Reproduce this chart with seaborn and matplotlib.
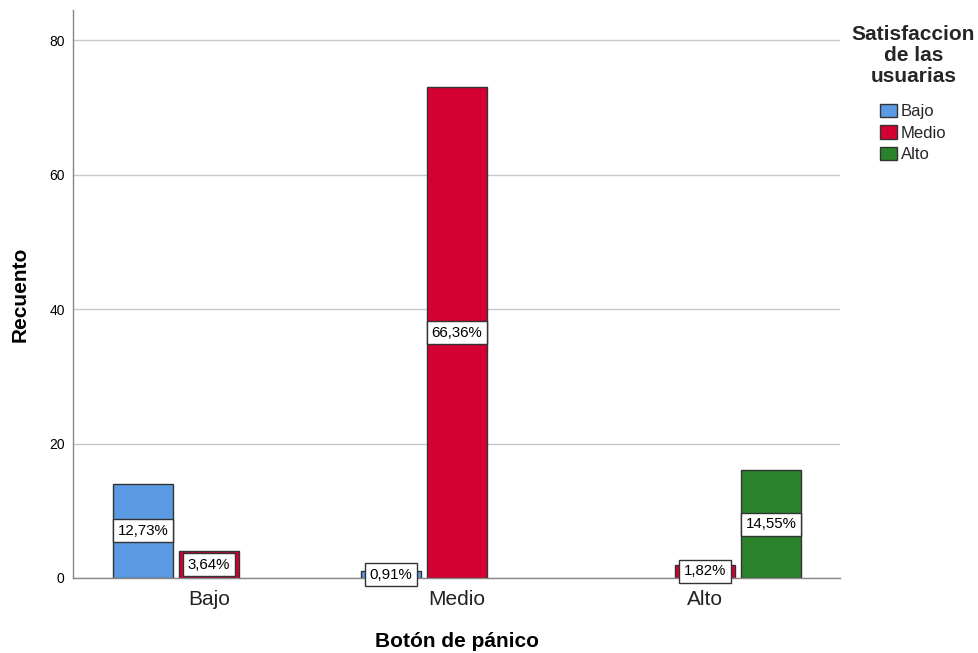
import matplotlib
matplotlib.use("Agg")
import matplotlib.pyplot as plt
import seaborn as sns
import pandas as pd
from matplotlib.patches import Patch

# Counts by panic-button level (x) and user-satisfaction level (hue)
boton = ["Bajo", "Bajo", "Medio", "Medio", "Alto", "Alto"]
satisfaccion = ["Bajo", "Medio", "Bajo", "Medio", "Medio", "Alto"]
recuento = [14, 4, 1, 73, 2, 16]

categorias = ["Bajo", "Medio", "Alto"]
niveles = ["Bajo", "Medio", "Alto"]
colores = ["#5A9BE3", "#D50032", "#2A832A"]
yticks = [0, 20, 40, 60, 80]

df = pd.DataFrame({"boton": boton, "satisfaccion": satisfaccion, "recuento": recuento})
total = sum(recuento)

sns.set_theme(style="white")
plt.rcParams["font.family"] = ["Liberation Sans", "DejaVu Sans"]

fig = plt.figure(figsize=(9.79, 6.53), dpi=100)
ax = fig.add_axes([0.0746, 0.1149, 0.7834, 0.8698])

sns.barplot(data=df, x="boton", y="recuento", hue="satisfaccion",
            order=categorias, hue_order=niveles, palette=colores,
            width=0.8, gap=0.1, edgecolor="#333333", linewidth=1.0,
            saturation=1, ax=ax, legend=False, errorbar=None)

# Percentage labels in white boxes at the middle of every bar
for cont in ax.containers:
    for bar in cont:
        h = bar.get_height()
        if not h or h != h:
            continue
        pct = f"{h / total * 100:.2f}".replace(".", ",") + "%"
        ax.text(bar.get_x() + bar.get_width() / 2, h / 2, pct,
                ha="center", va="center", fontsize=10.8, color="black",
                bbox=dict(boxstyle="square,pad=0.3", facecolor="white",
                          edgecolor="#333333", linewidth=1.0), zorder=5)

ax.set_xlim(-0.548, 2.544)
ax.set_ylim(0, 84.5)
ax.set_yticks(yticks)
ax.yaxis.grid(True, color="#C8C8C8", linewidth=1.0)
ax.set_axisbelow(True)
ax.tick_params(axis="y", labelsize=10, length=0, pad=6, colors="black")
ax.tick_params(axis="x", labelsize=15, length=0, pad=9, colors="#222222")
for s in ["top", "right"]:
    ax.spines[s].set_visible(False)
for s in ["left", "bottom"]:
    ax.spines[s].set_color("#888888")
    ax.spines[s].set_linewidth(1.0)

ax.set_xlabel("Botón de pánico", fontsize=15, fontweight="bold", labelpad=16, color="black")
ax.set_ylabel("Recuento", fontsize=15, fontweight="bold", labelpad=14, color="black")

handles = [Patch(facecolor=c, edgecolor="#333333", linewidth=1.0) for c in colores]
leg = fig.legend(handles, niveles, title="Satisfaccion\nde las\nusuarias",
                 loc="upper center", bbox_to_anchor=(0.933, 0.972),
                 frameon=False, fontsize=12, title_fontsize=15,
                 handlelength=1.0, handleheight=0.9, handletextpad=0.25,
                 labelspacing=0.35, borderaxespad=0)
leg.get_title().set_fontweight("bold")
leg.get_title().set_multialignment("center")
leg.get_title().set_linespacing(1.12)
# extra room between the title block and the entries
leg._legend_box.sep = 13

fig.savefig("out.png", dpi=100)
